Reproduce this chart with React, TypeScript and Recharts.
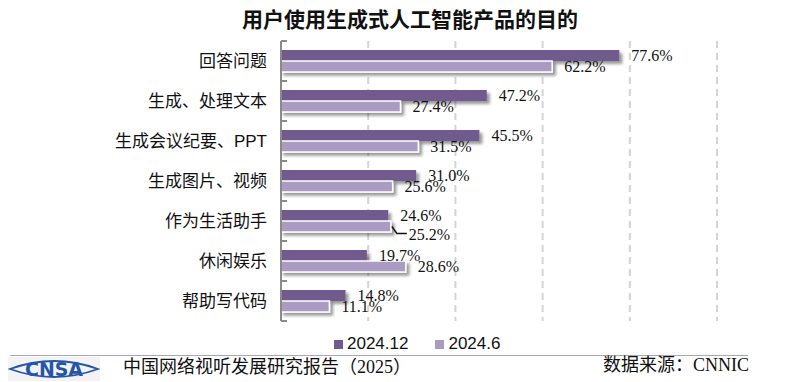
import { Bar, BarChart, CartesianGrid, LabelList, Legend, XAxis, YAxis } from 'recharts';

const categories = ['回答问题', '生成、处理文本', '生成会议纪要、PPT', '生成图片、视频', '作为生活助手', '休闲娱乐', '帮助写代码'];
const dec2024 = [77.6, 47.2, 45.5, 31.0, 24.6, 19.7, 14.8];
const jun2024 = [62.2, 27.4, 31.5, 25.6, 25.2, 28.6, 11.1];
const seriesNames = ['2024.12', '2024.6'];
const xTicks = [0, 20, 40, 60, 80, 100];

const data = categories.map((name, i) => ({ name, dec: dec2024[i], jun: jun2024[i] }));

const W = 790;
const H = 382;
const MARGIN = { top: 41, right: 73, bottom: 61, left: 0 };
const Y_AXIS_W = 281;
const TICK_SIZE = 6;
const TICK_MARGIN = 8;
const BAND = (H - MARGIN.top - MARGIN.bottom) / categories.length;

const DARK = '#715A8E';
const LIGHT = '#A99BC1';
const AXIS = '#8a8a8a';
const SANS = "'Liberation Sans', 'Noto Sans CJK SC', sans-serif";
const SERIF = "'Liberation Serif', 'Noto Sans CJK SC', serif";

// labels that were moved off the bar in the original, with a leader line
const lightNudges: Record<number, { dx: number; dy: number }> = { 4: { dx: 6, dy: 8 } };

// category labels plus Excel-style ticks between categories, pointing inward
const CategoryTick = (props: any) => {
  const { x, y, payload, index } = props;
  const axisX = x + TICK_SIZE + TICK_MARGIN;
  return (
    <g>
      <line x1={axisX} x2={axisX + 6} y1={y - BAND / 2} y2={y - BAND / 2} stroke={AXIS} strokeWidth={2} />
      {index === categories.length - 1 && (
        <line x1={axisX} x2={axisX + 6} y1={y + BAND / 2} y2={y + BAND / 2} stroke={AXIS} strokeWidth={2} />
      )}
      <text x={x} y={y} dy="0.35em" textAnchor="end" fontSize={17} fill="#111" fontFamily={SANS}>
        {payload.value}
      </text>
    </g>
  );
};

const makeLabel = (nudges: Record<number, { dx: number; dy: number }>) => (props: any) => {
  const { x, y, width, height, value, index } = props;
  const endX = x + width;
  const cy = y + height / 2;
  const txt = `${Number(value).toFixed(1)}%`;
  const n = nudges[index];
  if (n) {
    return (
      <g>
        <polyline
          points={`${endX + 1},${cy} ${endX + n.dx},${cy + n.dy - 1} ${endX + n.dx + 10},${cy + n.dy - 1}`}
          fill="none"
          stroke="#111"
          strokeWidth={1.4}
        />
        <text x={endX + 12 + n.dx} y={cy + n.dy} dy="0.35em" fontSize={16} fill="#111" fontFamily={SERIF}>
          {txt}
        </text>
      </g>
    );
  }
  return (
    <text x={endX + 12} y={cy} dy="0.35em" fontSize={16} fill="#111" fontFamily={SERIF}>
      {txt}
    </text>
  );
};

const ShadowBar = (props: any) => {
  const { x, y, width, height, fill, stroke } = props;
  return (
    <rect
      x={x}
      y={y}
      width={width}
      height={height}
      fill={fill}
      stroke={stroke}
      strokeWidth={stroke ? 1.5 : 0}
      filter="url(#barShadow)"
    />
  );
};

const renderLegend = () => (
  <div style={{ display: 'flex', alignItems: 'center', fontFamily: SANS, fontSize: 17, color: '#111', lineHeight: '20px' }}>
    {seriesNames.map((s, i) => (
      <div key={s} style={{ display: 'flex', alignItems: 'center', marginRight: i === 0 ? 27 : 0 }}>
        <span style={{ width: 9, height: 9, background: i === 0 ? DARK : LIGHT, marginRight: 4, display: 'inline-block' }} />
        <span>{s}</span>
      </div>
    ))}
  </div>
);

const Logo = () => (
  <svg width={92} height={24} style={{ position: 'absolute', left: 8, top: 357 }}>
    <rect x={0} y={0} width={92} height={24} fill="#f3f3f5" />
    <path d="M2,12 Q46,-4 90,12 Q46,28 2,12 Z" fill="none" stroke="#2456a8" strokeWidth={1.8} />
    <text
      x={46}
      y={12}
      dy="0.36em"
      textAnchor="middle"
      fontSize={19}
      fontWeight="bold"
      fill="#2456a8"
      fontFamily="'DejaVu Sans Condensed', 'Liberation Sans Narrow', sans-serif"
      textLength={58}
      lengthAdjust="spacingAndGlyphs"
    >
      CNSA
    </text>
  </svg>
);

export default function App() {
  return (
    <div style={{ position: 'absolute', left: 0, top: 0, width: W, height: H, background: '#fff', overflow: 'hidden' }}>
      <div
        style={{
          position: 'absolute',
          left: 242,
          top: 6,
          fontSize: 21,
          lineHeight: '24px',
          fontWeight: 'bold',
          fontFamily: "'Noto Sans CJK SC', sans-serif",
          color: '#111',
          whiteSpace: 'nowrap',
        }}
      >
        用户使用生成式人工智能产品的目的
      </div>

      <BarChart width={W} height={H} data={data} layout="vertical" margin={MARGIN} barSize={11} barGap={0}>
        <defs>
          <filter id="barShadow" x="-5%" y="-30%" width="115%" height="180%">
            <feDropShadow dx={3} dy={3} stdDeviation={1.5} floodColor="#000" floodOpacity={0.4} />
          </filter>
        </defs>
        <CartesianGrid horizontal={false} stroke="#d4d4d4" strokeWidth={2} strokeDasharray="7 5" />
        <XAxis type="number" domain={[0, 100]} ticks={xTicks} hide />
        <YAxis
          type="category"
          dataKey="name"
          width={Y_AXIS_W}
          axisLine={{ stroke: AXIS, strokeWidth: 2 }}
          tickLine={false}
          tickSize={TICK_SIZE}
          tickMargin={TICK_MARGIN}
          tick={CategoryTick}
          interval={0}
        />
        <Legend
          layout="horizontal"
          verticalAlign="middle"
          align="center"
          content={renderLegend}
          wrapperStyle={{ left: 334, top: 334, width: 'auto' }}
        />
        <Bar dataKey="dec" name={seriesNames[0]} fill={DARK} isAnimationActive={false} shape={<ShadowBar />}>
          <LabelList dataKey="dec" content={makeLabel({})} />
        </Bar>
        <Bar dataKey="jun" name={seriesNames[1]} fill={LIGHT} isAnimationActive={false} shape={<ShadowBar stroke="#fff" />}>
          <LabelList dataKey="jun" content={makeLabel(lightNudges)} />
        </Bar>
      </BarChart>

      <div style={{ position: 'absolute', left: 10, top: 355, width: 738, borderTop: '1.5px solid #a9a5bd' }} />
      <Logo />
      <div
        style={{
          position: 'absolute',
          left: 123,
          top: 356,
          fontSize: 18,
          lineHeight: '22px',
          fontFamily: SERIF,
          color: '#111',
          whiteSpace: 'nowrap',
        }}
      >
        中国网络视听发展研究报告（2025）
      </div>
      <div
        style={{
          position: 'absolute',
          left: 603,
          top: 354,
          fontSize: 18,
          lineHeight: '22px',
          fontFamily: SERIF,
          color: '#111',
          whiteSpace: 'nowrap',
        }}
      >
        数据来源：CNNIC
      </div>
    </div>
  );
}
